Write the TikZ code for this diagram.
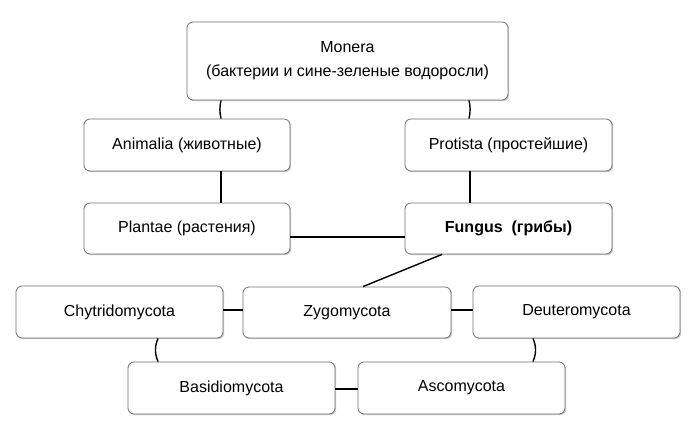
\documentclass[tikz,border=0pt]{standalone}
\usepackage{fontspec}
\setmainfont{Liberation Sans}
\usetikzlibrary{shadows}
\begin{document}
\begin{tikzpicture}[x=1pt,y=-1pt,
  box/.style={draw=black!55, line width=0.8pt, fill=white, rounded corners=6pt,
    drop shadow={shadow xshift=1.2pt, shadow yshift=-1.2pt, opacity=0.35, fill=black!60},
    inner sep=0pt, align=center, font=\fontsize{16}{24}\selectfont},
  link/.style={draw=black, line width=1.4pt}]
\useasboundingbox[fill=white] (0,0) rectangle (696,435);
\node[box, minimum width=321pt, minimum height=78pt] (mon) at (347.5,61) {Monera\\(бактерии и сине-зеленые водоросли)};
\node[box, minimum width=206pt, minimum height=52pt] (ani) at (187,145) {Animalia (животные)};
\node[box, minimum width=207pt, minimum height=52pt] (pro) at (508.5,145) {Protista (простейшие)};
\node[box, minimum width=206pt, minimum height=51pt] (pla) at (187,228.5) {Plantae (растения)};
\node[box, minimum width=207pt, minimum height=51pt] (fun) at (508.5,228.5) {\textbf{Fungus\ \ (грибы)}};
\node[box, minimum width=207pt, minimum height=52pt] (chy) at (119.5,312) {Chytridomycota};
\node[box, minimum width=208pt, minimum height=51pt] (zyg) at (347,312.5) {Zygomycota};
\node[box, minimum width=207pt, minimum height=52pt] (deu) at (576.5,312) {Deuteromycota};
\node[box, minimum width=207pt, minimum height=52pt] (bas) at (231.5,388) {Basidiomycota};
\node[box, minimum width=207pt, minimum height=52pt] (asc) at (461.5,388) {Ascomycota};
\coordinate (m1) at (mon.south -| 221,0);
\coordinate (a1) at (ani.north -| 221,0);
\coordinate (m2) at (mon.south -| 469,0);
\coordinate (p1) at (pro.north -| 469,0);
\draw[link] (m1) to[bend right=12] (a1);
\draw[link] (m2) to[bend left=12] (p1);
\draw[link] (ani.south -| 221,0) -- (pla.north -| 221,0);
\draw[link] (pro.south -| 470,0) -- (fun.north -| 470,0);
\draw[link] (pla.east |- 0,237) -- (fun.west |- 0,237);
\draw[link] (fun.south -| 442,0) -- (zyg.north -| 363,0);
\draw[link] (chy.east |- 0,310) -- (zyg.west |- 0,310);
\draw[link] (zyg.east |- 0,310) -- (deu.west |- 0,310);
\draw[link] (chy.south -| 158,0) to[bend right=22] (bas.north -| 158,0);
\draw[link] (deu.south -| 533,0) to[bend left=22] (asc.north -| 533,0);
\draw[link] (bas.east |- 0,389) -- (asc.west |- 0,389);
\end{tikzpicture}
\end{document}
